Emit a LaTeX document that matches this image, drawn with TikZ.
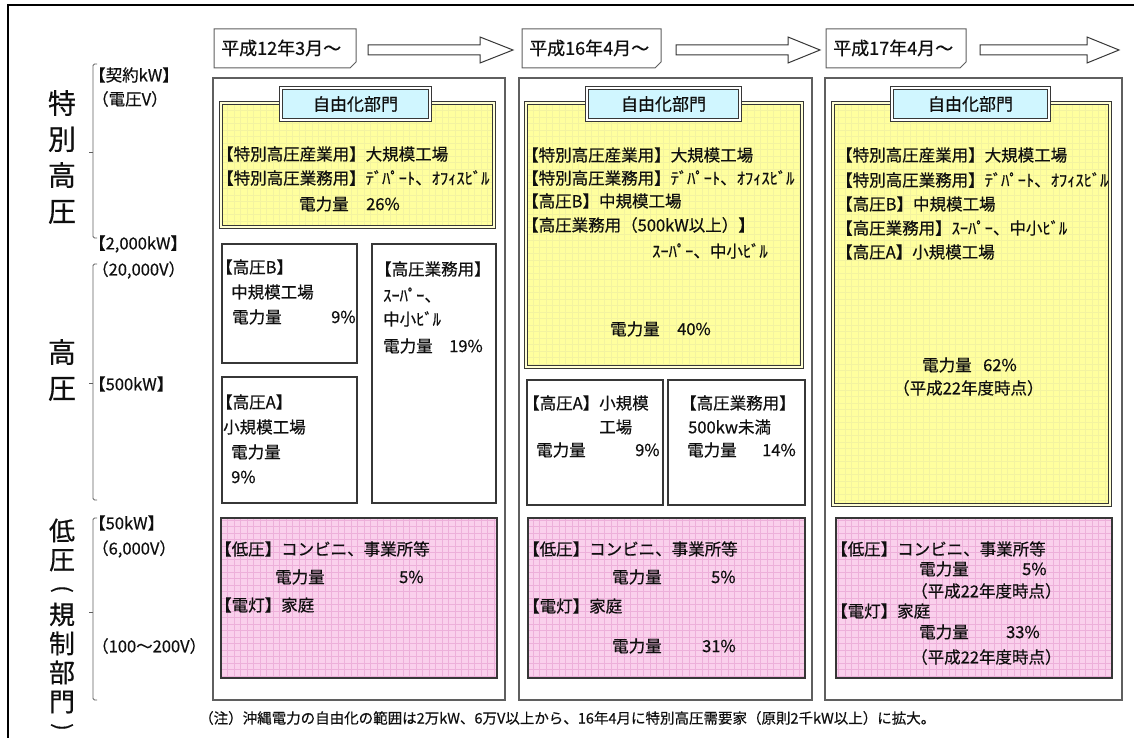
\documentclass[tikz,border=0pt]{standalone}
\usepackage{fontspec}
\setmainfont{Noto Sans CJK JP}[FakeBold=0.5]
\definecolor{pinkbg}{RGB}{250,208,236}
\definecolor{pinkln}{RGB}{237,176,218}
\definecolor{yelbg}{RGB}{255,255,158}
\definecolor{yelln}{RGB}{243,243,160}
\definecolor{tabbg}{RGB}{208,246,255}
\definecolor{edgec}{RGB}{55,55,55}
\definecolor{framec}{RGB}{95,95,95}
\definecolor{txtc}{RGB}{15,15,15}
\tikzset{
  txt/.style={inner sep=0pt, anchor=west, text=txtc, font=\fontsize{16.5}{19}\selectfont},
  hdrtxt/.style={txt, font=\fontsize{18}{20}\selectfont},
  tabtxt/.style={txt, anchor=center, font=\fontsize{17}{19}\selectfont},
  bigc/.style={inner sep=0pt, text=txtc, align=center},
  vparen/.style={inner sep=0pt, text=txtc, rotate=-90, font=\fontsize{22}{22}\selectfont},
  notetxt/.style={txt, font=\fontsize{14.5}{17}\selectfont},
  colframe/.style={draw=framec, line width=1.1pt, fill=white},
  wbox/.style={draw=edgec, line width=1.2pt, fill=white},
  ybox/.style={draw=edgec, line width=1pt, double=yelbg!45!white, double distance=1.6pt, fill=yelbg,
    path picture={\draw[yelln, line width=0.3pt, step=6.5pt] (path picture bounding box.south west) grid (path picture bounding box.north east);}},
  pbox/.style={draw=edgec, line width=1.2pt, fill=pinkbg,
    path picture={\draw[pinkln, line width=0.35pt, step=6.5pt] (path picture bounding box.south west) grid (path picture bounding box.north east);}},
  tabbox/.style={draw=edgec, line width=0.9pt, double=white, double distance=1.4pt, fill=tabbg},
  hbox/.style={draw=framec, line width=1pt, fill=white},
  harrow/.style={draw=edgec, line width=1pt, fill=white, line join=miter},
  brk/.style={draw=framec, line width=0.8pt, rounded corners=1.5pt},
  outer/.style={draw=black, line width=2pt}
}
\begin{document}
\begin{tikzpicture}[x=1pt,y=-1pt]
\useasboundingbox (0,0) rectangle (1134,738);
% outer frame
\draw[outer] (8,738) -- (8,5) -- (1134,5);

% header boxes with folded corner
\foreach \xa/\xb in {214/356, 522/661, 826/966}{
  \draw[hbox] (\xa,29) -- (\xb,29) -- (\xb,62) -- (\xb-6,68) -- (\xa,68) -- cycle;
  \fill[framec] (\xb,62) -- (\xb-6,68) -- (\xb-2,64) -- cycle;
}
\node[hdrtxt] (h1) at (221,48) {平成12年3月～};
\node[hdrtxt] (h2) at (529,48) {平成16年4月～};
\node[hdrtxt] (h3) at (833,48) {平成17年4月～};

% block arrows
\foreach \xs/\xh/\xt in {368/480/513, 676/788/820, 980/1087/1119}{
  \draw[harrow] (\xs,45) -- (\xh,45) -- (\xh,37) -- (\xt,50) -- (\xh,63) -- (\xh,55) -- (\xs,55) -- cycle;
}

% column frames
\draw[colframe] (213,78) rectangle (505,700);
\draw[colframe] (519,78) rectangle (812,700);
\draw[colframe] (825,78) rectangle (1122,700);

% yellow boxes
\draw[ybox] (221,103) rectangle (494,227);
\draw[ybox] (526,103) rectangle (802,367);
\draw[ybox] (833,103) rectangle (1110,505);

% tabs
\draw[tabbox] (281,88) rectangle (430,120);
\draw[tabbox] (587,88) rectangle (740,120);
\draw[tabbox] (892,88) rectangle (1049,120);
\node[tabtxt] (tab1) at (355.5,104) {自由化部門};
\node[tabtxt] (tab2) at (663.5,104) {自由化部門};
\node[tabtxt] (tab3) at (970.5,104) {自由化部門};

% white boxes
\draw[wbox] (222,244) rectangle (357,363);
\draw[wbox] (372,244) rectangle (496,503);
\draw[wbox] (222,377) rectangle (357,503);
\draw[wbox] (527,380) rectangle (663,505);
\draw[wbox] (668,380) rectangle (805,505);

% pink boxes
\draw[pbox] (221,518) rectangle (497,678);
\draw[pbox] (528,518) rectangle (805,678);
\draw[pbox] (836,518) rectangle (1112,678);

% left axis brackets
\draw[brk] (97,64) -- (93,64) -- (93,238) -- (97,238);
\draw[brk] (93,152) -- (89,152);
\draw[brk] (97,264) -- (93,264) -- (93,500) -- (97,500);
\draw[brk] (93,383) -- (89,383);
\draw[brk] (97,518) -- (93,518) -- (93,700) -- (97,700);
\draw[brk] (93,612) -- (89,612);

% left big vertical labels
\node[bigc, font=\fontsize{28}{36}\selectfont] (v1) at (62,157) {特\\別\\高\\圧};
\node[bigc, font=\fontsize{28}{36}\selectfont] (v2) at (62,370) {高\\圧};
\node[bigc, font=\fontsize{26}{29}\selectfont] (v3) at (62,545) {低\\圧};
\node[vparen] (v4) at (62,589) {(};
\node[bigc, font=\fontsize{26}{29}\selectfont] (v5) at (62,658) {規\\制\\部\\門};
\node[vparen] (v6) at (62,727) {)};

% axis labels
\node[txt] (l1) at (89,75) {【契約kW】};
\node[txt] (l2) at (92,99) {（電圧V）};
\node[txt] (l3) at (89,244) {【2,000kW】};
\node[txt] (l4) at (92,270) {（20,000V）};
\node[txt] (l5) at (89,384) {【500kW】};
\node[txt] (l6) at (89,523) {【50kW】};
\node[txt] (l7) at (92,549) {（6,000V）};
\node[txt] (l8) at (92,646) {（100～200V）};

% column 1 yellow
\node[txt] (a1) at (217,154) {【特別高圧産業用】大規模工場};
\node[txt] (a2) at (217,178) {【特別高圧業務用】ﾃﾞﾊﾟｰﾄ、ｵﾌｨｽﾋﾞﾙ};
\node[txt] (a3) at (299,204) {電力量};
\node[txt] (a4) at (366,204) {26\%};
% column 1 high voltage B
\node[txt] (b1) at (216,267) {【高圧B】};
\node[txt] (b2) at (231,292) {中規模工場};
\node[txt] (b3) at (232,317) {電力量};
\node[txt] (b4) at (331,317) {9\%};
% column 1 business
\node[txt] (c1) at (375,269) {【高圧業務用】};
\node[txt] (c2) at (383,295) {ｽｰﾊﾟｰ、};
\node[txt] (c3) at (383,319) {中小ﾋﾞﾙ};
\node[txt] (c4) at (383,346) {電力量};
\node[txt] (c5) at (449,346) {19\%};
% column 1 high voltage A
\node[txt] (d1) at (216,402) {【高圧A】};
\node[txt] (d2) at (223,427) {小規模工場};
\node[txt] (d3) at (231,452) {電力量};
\node[txt] (d4) at (231,477) {9\%};
% column 1 pink
\node[txt] (e1) at (215,549) {【低圧】コンビニ、事業所等};
\node[txt] (e2) at (275,577) {電力量};
\node[txt] (e3) at (399,577) {5\%};
\node[txt] (e4) at (215,605) {【電灯】家庭};

% column 2 yellow
\node[txt] (f1) at (522,155) {【特別高圧産業用】大規模工場};
\node[txt] (f2) at (522,178) {【特別高圧業務用】ﾃﾞﾊﾟｰﾄ、ｵﾌｨｽﾋﾞﾙ};
\node[txt] (f3) at (522,201) {【高圧B】中規模工場};
\node[txt] (f4) at (522,225) {【高圧業務用（500kW以上）】};
\node[txt] (f5) at (652,251) {ｽｰﾊﾟｰ、中小ﾋﾞﾙ};
\node[txt] (f6) at (610,329) {電力量};
\node[txt] (f7) at (677,329) {40\%};
% column 2 white boxes
\node[txt] (g1) at (523,403) {【高圧A】小規模};
\node[txt] (g2) at (599,427) {工場};
\node[txt] (g3) at (536,450) {電力量};
\node[txt] (g4) at (635,450) {9\%};
\node[txt] (g5) at (680,403) {【高圧業務用】};
\node[txt] (g6) at (688,427) {500kw未満};
\node[txt] (g7) at (687,450) {電力量};
\node[txt] (g8) at (762,450) {14\%};
% column 2 pink
\node[txt] (k1) at (523,549) {【低圧】コンビニ、事業所等};
\node[txt] (k2) at (612,577) {電力量};
\node[txt] (k3) at (711,577) {5\%};
\node[txt] (k4) at (523,606) {【電灯】家庭};
\node[txt] (k5) at (612,646) {電力量};
\node[txt] (k6) at (702,646) {31\%};

% column 3 yellow
\node[txt] (m1) at (836,155) {【特別高圧産業用】大規模工場};
\node[txt] (m2) at (836,180) {【特別高圧業務用】ﾃﾞﾊﾟｰﾄ、ｵﾌｨｽﾋﾞﾙ};
\node[txt] (m3) at (836,204) {【高圧B】中規模工場};
\node[txt] (m4) at (836,228) {【高圧業務用】ｽｰﾊﾟｰ、中小ﾋﾞﾙ};
\node[txt] (m5) at (836,252) {【高圧A】小規模工場};
\node[txt] (m6) at (922,365) {電力量};
\node[txt] (m7) at (983,365) {62\%};
\node[txt] (m8) at (893,388) {（平成22年度時点）};
% column 3 pink
\node[txt] (n1) at (831,549) {【低圧】コンビニ、事業所等};
\node[txt] (n2) at (919,569) {電力量};
\node[txt] (n3) at (1022,569) {5\%};
\node[txt] (n4) at (911,591) {（平成22年度時点）};
\node[txt] (n5) at (831,611) {【電灯】家庭};
\node[txt] (n6) at (919,632) {電力量};
\node[txt] (n7) at (1006,632) {33\%};
\node[txt] (n8) at (911,657) {（平成22年度時点）};

% footnote
\node[notetxt] (note) at (199,718) {（注）沖縄電力の自由化の範囲は2万kW、6万V以上から、16年4月に特別高圧需要家（原則2千kW以上）に拡大。};
\end{tikzpicture}
\end{document}
